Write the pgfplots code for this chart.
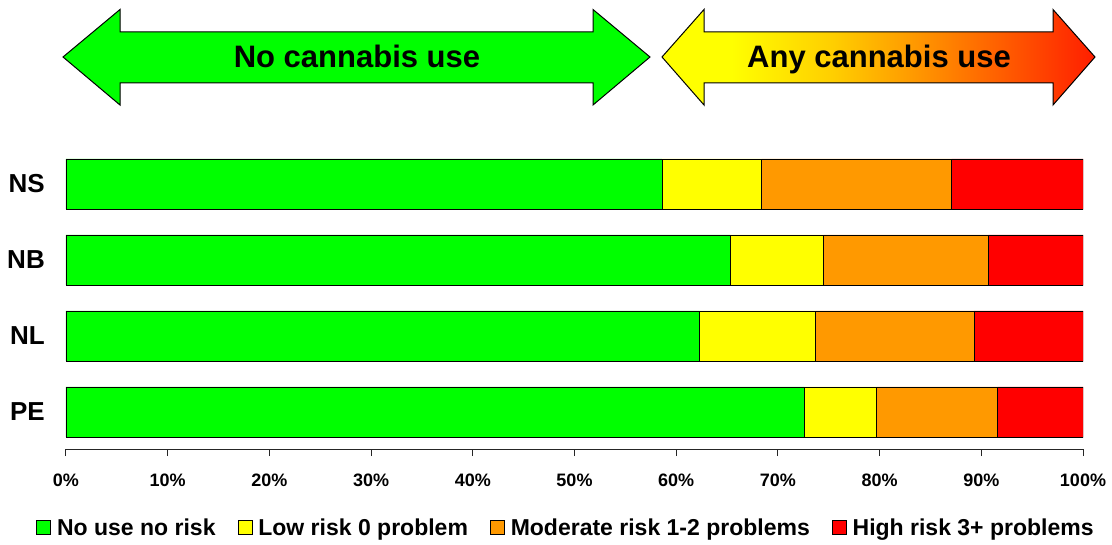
\documentclass[border=0pt]{standalone}
\usepackage{fontspec}
\setmainfont{Liberation Sans}
\usepackage{pgfplots}
\pgfplotsset{compat=1.18}
\definecolor{cgreen}{RGB}{0,255,0}
\definecolor{cyellow}{RGB}{255,255,0}
\definecolor{corange}{RGB}{255,153,0}
\definecolor{cred}{RGB}{255,0,0}
\definecolor{sA}{RGB}{255,205,0}
\definecolor{sB}{RGB}{255,130,0}
\definecolor{sC}{RGB}{255,30,0}
\pgfdeclarehorizontalshading{anyuse}{100bp}{color(0bp)=(cyellow); color(33bp)=(cyellow); color(45bp)=(sA); color(58bp)=(sB); color(75bp)=(sC); color(100bp)=(sC)}
\begin{document}
\begin{tikzpicture}[x=1pt,y=1pt]
\path[use as bounding box] (0,0) rectangle (1112,544);
% arrows
\filldraw[fill=cgreen, draw=black, line width=1pt]
 (63,487) -- (120,534.5) -- (120,512) -- (593,512) -- (593,534.5) -- (650,487)
 -- (593,439) -- (593,461) -- (120,461) -- (120,439) -- cycle;
\node[font=\fontsize{31}{31}\selectfont\bfseries, anchor=base, inner sep=0pt] at (357,476) {No cannabis use};
\shadedraw[shading=anyuse, draw=black, line width=1pt]
 (662,487) -- (704,534.5) -- (704,512) -- (1053,512) -- (1053,534.5) -- (1095,487)
 -- (1053,439) -- (1053,461) -- (704,461) -- (704,439) -- cycle;
\node[font=\fontsize{31}{31}\selectfont\bfseries, anchor=base, inner sep=0pt] at (879,476) {Any cannabis use};
\begin{axis}[
  at={(66pt,95pt)}, anchor=south west,
  scale only axis, width=1017pt, height=303pt,
  xbar stacked, bar width=50pt,
  xmin=0, xmax=100, ymin=-0.487, ymax=3.5,
  axis x line*=bottom, axis y line*=left,
  y axis line style={draw=none},
  x axis line style={black!85, line width=1pt},
  xtick={0,10,...,100},
  xticklabel={\pgfmathprintnumber{\tick}\%},
  /pgf/number format/assume math mode=true,
  xtick style={black!85, line width=1pt},
  tick align=outside, major tick length=7pt,
  ytick={0,1,2,3}, yticklabels={PE,NL,NB,NS},
  ytick style={draw=none},
  xticklabel style={font=\fontsize{18}{18}\selectfont\bfseries, inner sep=0pt, anchor=north, yshift=-18pt},
  yticklabel style={font=\fontsize{26}{26}\selectfont\bfseries, inner sep=0pt, anchor=east, xshift=-14pt},
  legend columns=4,
  legend style={at={(0.4916,-0.2600)}, anchor=center, draw=none, fill=none,
    font=\fontsize{23}{23}\selectfont\bfseries, inner sep=0pt,
    /tikz/every even column/.append style={column sep=20pt}},
  legend image code/.code={\draw[#1, draw=black, line width=0.8pt] (0pt,-7pt) rectangle (14pt,7pt); \path (18pt,0pt);},
]
\addplot[fill=cgreen, draw=black, line width=0.8pt] coordinates {(58.6,3) (65.3,2) (62.3,1) (72.6,0)};
\addplot[fill=cyellow, draw=black, line width=0.8pt] coordinates {(9.8,3) (9.2,2) (11.4,1) (7.1,0)};
\addplot[fill=corange, draw=black, line width=0.8pt] coordinates {(18.7,3) (16.2,2) (15.6,1) (11.9,0)};
\addplot[fill=cred, draw=black, line width=0.8pt] coordinates {(12.9,3) (9.3,2) (10.7,1) (8.4,0)};
\legend{No use no risk, Low risk 0 problem, Moderate risk 1-2 problems, High risk 3+ problems}
\end{axis}
\end{tikzpicture}
\end{document}
